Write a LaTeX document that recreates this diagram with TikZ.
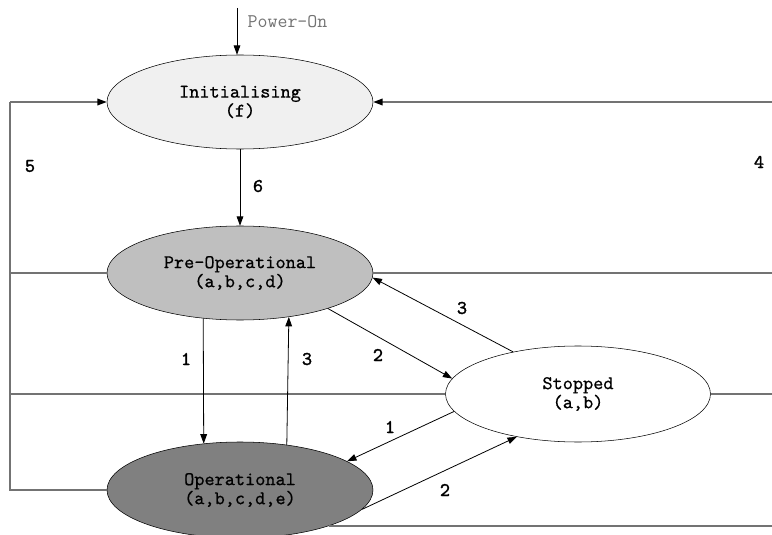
\documentclass[tikz,border=0pt]{standalone}
\usepackage{fontspec}
\newfontfamily\statefont{lmmono10-regular.otf}[FakeBold=0.6]
\newfontfamily\numfont{lmmono10-regular.otf}[FakeBold=1.6]
\usetikzlibrary{shapes.geometric,arrows.meta}

\tikzset{
	state/.style={draw,ellipse,inner sep=0pt,minimum width=199.5pt,minimum height=70.5pt,align=center,font=\statefont\fontsize{14.5}{14.3}\selectfont},
	trans/.style={draw,line width=0.6pt,-{Triangle[length=7pt,width=5pt]}},
	frame/.style={draw=black!55,line width=1pt},
	num/.style={font=\numfont\fontsize{14.5}{14.3}\selectfont}
}

\begin{document}
\begin{tikzpicture}[x=0.75pt,y=-0.75pt]
		\useasboundingbox (0,0) rectangle (772,535);

		% the four states
		\node[state,fill=black!6]  (init)  at (240,102) {Initialising\\(f)};
		\node[state,fill=black!25] (preop) at (240,273) {Pre-Operational\\(a,b,c,d)};
		\node[state,fill=black!50,minimum height=72pt] (op) at (240,490) {Operational\\(a,b,c,d,e)};
		\node[state,fill=white,minimum width=198.75pt,minimum height=72pt] (stop) at (578,394) {Stopped\\(a,b)};

		\coordinate (lft) at (10,0);
		\coordinate (rgt) at (772,0);
		\coordinate (pwr) at (237,8);

		% power on
		\draw[trans] (pwr) -- (pwr |- init.north);
		\node[anchor=west,text=black!55,font=\ttfamily\fontsize{14.5}{14.3}\selectfont] (pwrtxt) at (243,22) {Power-On};

		% reset lines (5 and 4)
		\draw[frame] (op.west) -- (lft |- op.west) -- (lft |- init.west);
		\draw[frame,-{Triangle[length=7pt,width=5pt,color=black]}] (lft |- init.west) -- (init.west);
		\draw[frame] (preop.west) -- (lft |- preop.west);
		\draw[frame] (stop.west) -- (lft |- stop.west);
		\draw[frame,-{Triangle[length=7pt,width=5pt,color=black]}] (rgt |- init.east) -- (init.east);
		\draw[frame] (preop.east) -- (rgt |- preop.east);
		\draw[frame] (stop.east) -- (rgt |- stop.east);
		\draw[frame] (op.-22) -- (rgt |- op.-22);

		% transitions
		\draw[trans] (init.south) -- (preop.north);
		\draw[trans] (preop.-129) -- (op.128);
		\draw[trans] (op.44) -- (preop.-42.5);
		\draw[trans] (preop.-22) -- (stop.173);
		\draw[trans] (stop.147) -- (preop.-2);
		\draw[trans] (stop.188) -- (op.15);
		\draw[trans] (op.-9) -- (stop.215);

		% labels
		\node[num] (n5) at (30,166) {5};
		\node[num] (n4) at (759,162) {4};
		\node[num] (n6) at (258,186) {6};
		\node[num] (n1a) at (186,359) {1};
		\node[num] (n3a) at (307,359) {3};
		\node[num] (n2a) at (378,355) {2};
		\node[num] (n3b) at (462,308) {3};
		\node[num] (n1b) at (390,427) {1};
		\node[num] (n2b) at (445,490) {2};
	\end{tikzpicture}
\end{document}
